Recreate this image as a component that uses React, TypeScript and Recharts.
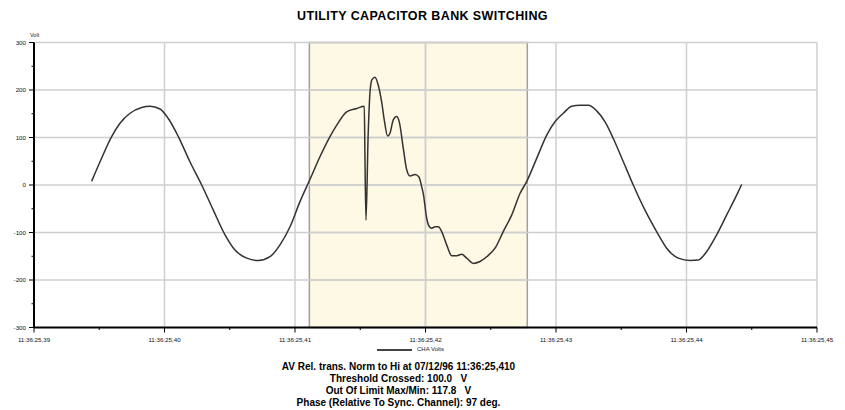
import { LineChart, Line, XAxis, YAxis, ReferenceArea, ReferenceLine } from 'recharts';

const TIME_MS = [
  394.42, 395.06, 395.95, 396.59, 397.36, 398.25, 398.89, 399.66, 400.29, 401.06,
  401.95, 402.85, 403.74, 404.64, 405.4, 406.3, 407.19, 408.08, 408.85, 409.62,
  410.38, 411.15, 411.92, 412.68, 413.2, 413.96, 414.73, 415.31, 415.36, 415.44,
  415.6, 415.76, 415.9, 416.13, 416.38, 416.64, 416.84, 417.1, 417.28, 417.53,
  417.79, 417.99, 418.3, 418.56, 418.81, 419.2, 419.5, 419.71, 419.83, 420.09,
  420.3, 420.47, 420.75, 420.98, 421.24, 421.62, 422.01, 422.39, 422.77, 423.16,
  423.66, 424.18, 424.69, 425.33, 425.96, 426.61, 427.24, 427.75, 428.52, 429.29,
  429.92, 430.56, 431.2, 431.84, 432.48, 433.12, 433.76, 434.39, 435.16, 435.92,
  436.82, 437.71, 438.48, 439.37, 440.27, 440.9, 441.55, 442.31, 443.08, 443.72,
  444.23,
];
const CHA_VOLTS = [
  8, 49, 102, 130, 151, 163, 166, 160, 140, 102,
  49, 0, -53, -105, -137, -154, -159, -151, -126, -88,
  -35, 12, 60, 102, 126, 154, 161, 166, 60, -74,
  100, 200, 222, 227, 210, 175, 137, 103, 109, 137,
  144, 133, 77, 32, 19, 22, 17, -4, -18, -70,
  -88, -91, -88, -88, -98, -126, -149, -149, -146, -154,
  -165, -161, -151, -133, -98, -63, -18, 7, 56, 105,
  133, 151, 166, 168, 168, 156, 133, 98, 49, 0,
  -53, -98, -133, -154, -159, -158, -140, -105, -63, -28,
  1,
];

const X_TICKS = [390, 395, 400, 405, 410, 415, 420, 425, 430, 435, 440, 445, 450];
const X_GRID = [400, 410, 420, 430, 440, 450];
const Y_TICKS = [-300, -250, -200, -150, -100, -50, 0, 50, 100, 150, 200, 250, 300];
const Y_GRID = [-200, -100, 0, 100, 200, 300];
const Y_DOMAIN = [-300, 300];
const EVENT_WINDOW = [411.1, 427.8];

const INFO_LINES = [
  'AV Rel. trans. Norm to Hi at 07/12/96 11:36:25,410',
  'Threshold Crossed: 100.0   V',
  'Out Of Limit Max/Min: 117.8   V',
  'Phase (Relative To Sync. Channel): 97 deg.',
];

const data = TIME_MS.map((t, i) => ({ t, v: CHA_VOLTS[i] }));

const FONT = '"Liberation Sans", Arial, sans-serif';
const GRID_COLOR = '#cfcfcf';

const fmtTime = (ms: number) => `11:36:25,${String(Math.round(ms / 10)).padStart(2, '0')}`;

function XTick({ x, y, payload }: any) {
  const major = payload.value % 10 === 0;
  return (
    <g>
      <line x1={x} x2={x} y1={y} y2={y + (major ? 5 : 2.5)} stroke="#000" strokeWidth={1} />
      {major && (
        <text x={x} y={y + 14} textAnchor="middle" fontSize={6.2} fill="#111" fontFamily={FONT}>
          {fmtTime(payload.value)}
        </text>
      )}
    </g>
  );
}

function YTick({ x, y, payload }: any) {
  const major = payload.value % 100 === 0;
  return (
    <g>
      <line x1={x - (major ? 5 : 2.5)} x2={x} y1={y} y2={y} stroke="#000" strokeWidth={1} />
      {major && (
        <text x={x - 8} y={y + 2} textAnchor="end" fontSize={6.2} fill="#111" fontFamily={FONT}>
          {payload.value}
        </text>
      )}
    </g>
  );
}

// shaded event window; the grid is redrawn inside it so it stays visible
function EventShape({ x, y, width, height }: any) {
  const [t0, t1] = EVENT_WINDOW;
  const [lo, hi] = Y_DOMAIN;
  return (
    <g>
      <rect x={x} y={y} width={width} height={height} fill="#fdf9e4" />
      {Y_GRID.filter((v) => v < hi).map((v) => {
        const yy = y + (height * (hi - v)) / (hi - lo);
        return <line key={`h${v}`} x1={x} x2={x + width} y1={yy} y2={yy} stroke={GRID_COLOR} strokeWidth={1.5} />;
      })}
      {X_GRID.filter((v) => v > t0 && v < t1).map((v) => {
        const xx = x + (width * (v - t0)) / (t1 - t0);
        return <line key={`v${v}`} x1={xx} x2={xx} y1={y} y2={y + height} stroke={GRID_COLOR} strokeWidth={1.5} />;
      })}
      <rect x={x} y={y} width={width} height={height} fill="none" stroke="#a0a0a0" strokeWidth={1.5} />
    </g>
  );
}

export default function App() {
  return (
    <div style={{ position: 'absolute', left: 0, top: 0, width: 845, height: 410, background: '#fff', fontFamily: FONT }}>
      <div style={{ position: 'absolute', top: 9, width: 845, textAlign: 'center', fontSize: 12.5, fontWeight: 700, letterSpacing: 0.4, color: '#000' }}>
        UTILITY CAPACITOR BANK SWITCHING
      </div>
      <div style={{ position: 'absolute', left: 30, top: 32, fontSize: 5.5, color: '#222' }}>Volt</div>

      <LineChart width={845} height={410} data={data} margin={{ top: 42.5, right: 28, left: 0, bottom: 52.5 }}>
        {Y_GRID.map((v) => (
          <ReferenceLine key={`y${v}`} y={v} stroke={GRID_COLOR} strokeWidth={1.5} />
        ))}
        {X_GRID.map((v) => (
          <ReferenceLine key={`x${v}`} x={v} stroke={GRID_COLOR} strokeWidth={1.5} />
        ))}
        <ReferenceArea x1={EVENT_WINDOW[0]} x2={EVENT_WINDOW[1]} y1={Y_DOMAIN[0]} y2={Y_DOMAIN[1]} shape={<EventShape />} />
        <XAxis
          dataKey="t"
          type="number"
          domain={[390, 450]}
          ticks={X_TICKS}
          interval={0}
          height={30}
          tickSize={0}
          tickMargin={0}
          tickLine={false}
          axisLine={{ stroke: '#000', strokeWidth: 2 }}
          tick={<XTick />}
        />
        <YAxis
          type="number"
          domain={Y_DOMAIN}
          ticks={Y_TICKS}
          interval={0}
          width={34}
          tickSize={0}
          tickMargin={0}
          tickLine={false}
          axisLine={{ stroke: '#000', strokeWidth: 2 }}
          tick={<YTick />}
        />
        <Line type="monotone" dataKey="v" stroke="#333" strokeWidth={1.5} dot={false} isAnimationActive={false} />
      </LineChart>

      <div style={{ position: 'absolute', left: 377, top: 348.5, width: 35, height: 2.5, background: '#444' }} />
      <div style={{ position: 'absolute', left: 417, top: 346, fontSize: 6, color: '#222' }}>CHA Volts</div>

      {INFO_LINES.map((line, i) => (
        <div
          key={line}
          style={{ position: 'absolute', left: -24, top: 360.5 + i * 12, width: 845, textAlign: 'center', fontSize: 10, fontWeight: 700, color: '#000', whiteSpace: 'pre' }}
        >
          {line}
        </div>
      ))}
    </div>
  );
}
